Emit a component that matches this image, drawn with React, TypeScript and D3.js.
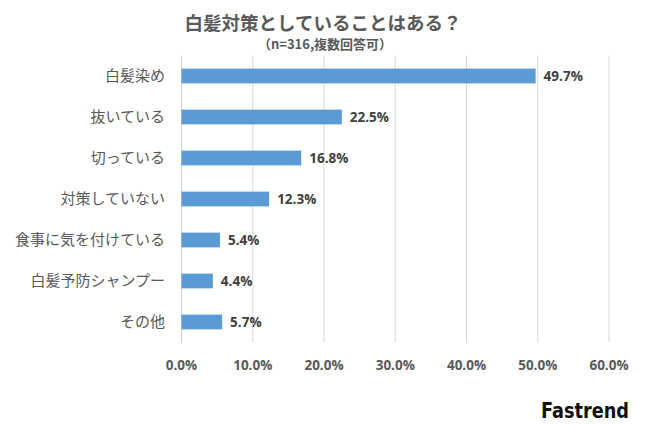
import React from "react";
import * as d3 from "d3";

const categories = ["白髪染め", "抜いている", "切っている", "対策していない", "食事に気を付けている", "白髪予防シャンプー", "その他"];
const values = [49.7, 22.5, 16.8, 12.3, 5.4, 4.4, 5.7];
const ticks = [0, 10, 20, 30, 40, 50, 60];
const title = "白髪対策としていることはある？";
const subtitle = "（n=316,複数回答可）";

export default function App() {
  const W = 650, H = 429;
  const x = d3.scaleLinear().domain([0, 60]).range([181.5, 609]);
  const y = d3.scaleBand().domain(categories).range([55.5, 342.5]).paddingInner(0.64).paddingOuter(0.32);
  const font = "'Noto Sans CJK JP', 'Noto Sans', sans-serif";
  return (
    <svg width={W} height={H} style={{ position: "absolute", left: 0, top: 0, background: "#fff" }} fontFamily={font}>
      <rect width={W} height={H} fill="#fff" />
      <text x={323} y={30} textAnchor="middle" fontSize={18.5} fontWeight={700} fill="#595959">{title}</text>
      <text x={325} y={49} textAnchor="middle" fontSize={13} fontWeight={700} fill="#595959">{subtitle}</text>
      {ticks.map((t) => (
        <line key={t} x1={x(t)} x2={x(t)} y1={55.5} y2={342.5} stroke={t === 0 ? "#d0d0d0" : "#d9d9d9"} strokeWidth={1} />
      ))}
      {ticks.map((t) => (
        <text key={"t" + t} x={x(t)} y={370} textAnchor="middle" fontSize={13.5} fontWeight={700} fill="#595959" fontFamily="'Open Sans', sans-serif">{t.toFixed(1)}%</text>
      ))}
      {categories.map((c, i) => (
        <g key={c}>
          <rect x={x(0)} y={y(c)!} width={x(values[i]) - x(0)} height={y.bandwidth()} fill="#5B9BD5" />
          <text x={x(values[i]) + 8} y={y(c)! + y.bandwidth() / 2} dy="0.36em" fontSize={13.5} fontWeight={700} fill="#404040" fontFamily="'Open Sans', sans-serif">{values[i].toFixed(1)}%</text>
          <text x={165} y={y(c)! + y.bandwidth() / 2} dy="0.36em" textAnchor="end" fontSize={15} fill="#595959">{c}</text>
        </g>
      ))}
      <text x={541} y={418} fontSize={22} fontWeight={700} fill="#111" textLength={88} lengthAdjust="spacingAndGlyphs" fontFamily="'DejaVu Sans Condensed', 'DejaVu Sans', sans-serif">Fastrend</text>
    </svg>
  );
}
